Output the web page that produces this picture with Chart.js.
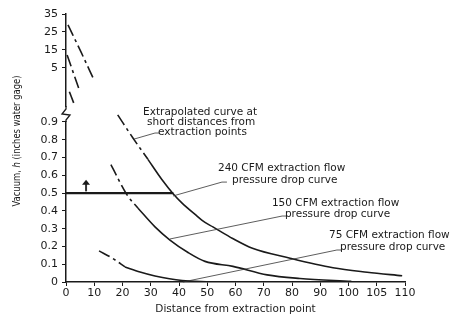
<!DOCTYPE html>
<html>
<head>
<meta charset="utf-8">
<script src="https://cdn.jsdelivr.net/npm/chart.js@4/dist/chart.umd.min.js"></script>
<style>
  html, body { margin: 0; padding: 0; background: #fff; }
  #chart { display: block; }
</style>
</head>
<body>
<canvas id="chart" width="469" height="320"></canvas>
<script>
// Graduations des axes (l'axe des distances n'est pas régulier : 100, 105, 110)
const xTickValues = [0, 10, 20, 30, 40, 50, 60, 70, 80, 90, 100, 105, 110];
const lowerTicks = [0, 0.1, 0.2, 0.3, 0.4, 0.5, 0.6, 0.7, 0.8, 0.9];
const upperTicks = [5, 15, 25, 35];

// Courbes [distance, dépression] lues sur la figure
// partie haute (échelle 5-35)
const flow240Upper = [[0.7, 28.9], [5.3, 13.9], [9.6, -0.6]];
const flow150Upper = [[0.4, 12.2], [4.7, -7.2]];
const flow75Upper = [[1.2, -8.2], [3.0, -15.6]];

// partie basse (échelle 0-0.9) : extrapolée puis mesurée
const flow240Extrap = [[18.3, 0.94], [23.7, 0.81], [29, 0.69]];
const flow240 = [[29, 0.69], [34, 0.575], [38, 0.495], [41, 0.445], [45.7, 0.38], [49.2, 0.335],
                 [52, 0.31], [59, 0.245], [66, 0.19], [79, 0.135], [94.5, 0.08], [103.3, 0.055], [109.5, 0.035]];
const flow150Extrap = [[15.9, 0.66], [21.6, 0.49], [25.5, 0.415]];
const flow150 = [[25.5, 0.415], [31.5, 0.31], [36.8, 0.236], [43.2, 0.166], [49.2, 0.116],
                 [59.1, 0.088], [71.2, 0.04], [82.8, 0.02], [100.5, 0.004]];
const flow75Extrap = [[11.7, 0.175], [16.3, 0.135], [20.9, 0.085]];
const flow75 = [[20.9, 0.085], [26.2, 0.056], [31.5, 0.034], [41.1, 0.008], [51, 0]];

// Seuil de 0.5 po d'eau
const thresholdLine = [[0, 0.5], [38, 0.5]];

// Annotations (texte + trait de rappel), en coordonnées de données
const notes = [
    { text: 'Extrapolated curve at', at: [27.3, 0.956] },
    { text: 'short distances from', at: [28.7, 0.9] },
    { text: 'extraction points', at: [32.6, 0.844] },
    { text: '240 CFM extraction flow', at: [53.8, 0.641] },
    { text: 'pressure drop curve', at: [58.8, 0.574] },
    { text: '150 CFM extraction flow', at: [72.9, 0.444] },
    { text: 'pressure drop curve', at: [77.5, 0.382] },
    { text: '75 CFM extraction flow', at: [93.1, 0.264] },
    { text: 'pressure drop curve', at: [97.0, 0.197] }
];
const leaders = [
    [[24.1, 0.804], [31.5, 0.838]],
    [[37.9, 0.484], [55.2, 0.562]],
    [[36.8, 0.242], [76.5, 0.371]],
    [[41.4, 0.0], [95.9, 0.18]]
];

const INK = '#1a1a1a';
const FONT = '"DejaVu Sans", sans-serif';

/**
 * Convertit une distance en position sur l'axe (graduations équidistantes)
 */
function xPos(d) {
    for (let i = 1; i < xTickValues.length; i++) {
        if (d <= xTickValues[i]) {
            const a = xTickValues[i - 1], b = xTickValues[i];
            return i - 1 + (d - a) / (b - a);
        }
    }
    return xTickValues.length - 1;
}

function toPoints(curve) {
    return curve.map(p => ({ x: xPos(p[0]), y: p[1] }));
}

function curve(data, axis, dashed, width) {
    return {
        data: toPoints(data),
        yAxisID: axis,
        borderColor: INK,
        borderWidth: width || 1.6,
        borderDash: dashed ? [12, 4, 3, 4] : [],
        pointRadius: 0,
        cubicInterpolationMode: 'monotone',
        fill: false
    };
}

// Dessin du texte, des traits de rappel, de la flèche et de la coupure d'axe
const decorPlugin = {
    id: 'decor',
    afterDraw(chart) {
        const ctx = chart.ctx;
        const x = chart.scales.x, yLow = chart.scales.yLow, yTop = chart.scales.yTop;
        const px = d => x.getPixelForValue(xPos(d));
        const py = v => yLow.getPixelForValue(v);
        ctx.save();

        // traits de rappel
        ctx.strokeStyle = '#333';
        ctx.lineWidth = 0.8;
        leaders.forEach(([a, b]) => {
            ctx.beginPath();
            ctx.moveTo(px(a[0]), py(a[1]));
            ctx.lineTo(px(b[0]), py(b[1]));
            ctx.lineTo(px(b[0]) + 5, py(b[1]));
            ctx.stroke();
        });

        // textes
        ctx.fillStyle = INK;
        ctx.font = '10.5px ' + FONT;
        ctx.textAlign = 'left';
        ctx.textBaseline = 'middle';
        notes.forEach(n => ctx.fillText(n.text, px(n.at[0]), py(n.at[1])));

        // flèche au-dessus du seuil
        const ax = px(7.1), ay0 = py(0.51), ay1 = py(0.575);
        ctx.lineWidth = 2;
        ctx.beginPath();
        ctx.moveTo(ax, ay0);
        ctx.lineTo(ax, ay1 + 3);
        ctx.stroke();
        ctx.beginPath();
        ctx.moveTo(ax, ay1);
        ctx.lineTo(ax - 4, ay1 + 5);
        ctx.lineTo(ax + 4, ay1 + 5);
        ctx.closePath();
        ctx.fill();

        // coupure de l'axe vertical
        const left = chart.chartArea.left;
        const yb = yTop.bottom;
        ctx.fillStyle = '#fff';
        ctx.fillRect(left - 3, yb - 7, 6, 14);
        ctx.strokeStyle = INK;
        ctx.lineWidth = 1.3;
        ctx.beginPath();
        ctx.moveTo(left, yb - 8);
        ctx.lineTo(left, yb - 5);
        ctx.lineTo(left - 4, yb);
        ctx.lineTo(left + 4, yb + 1);
        ctx.lineTo(left, yb + 6);
        ctx.lineTo(left, yb + 8);
        ctx.stroke();

        // titre vertical (police étroite)
        ctx.fillStyle = INK;
        ctx.translate(17, 141);
        ctx.rotate(-Math.PI / 2);
        ctx.scale(0.8, 1);
        const parts = [
            ['Vacuum, ', '10.5px ' + FONT],
            ['h', 'italic 10.5px ' + FONT],
            [' (inches water gage)', '10.5px ' + FONT]
        ];
        let total = 0;
        parts.forEach(p => { ctx.font = p[1]; total += ctx.measureText(p[0]).width; });
        let cx = -total / 2;
        parts.forEach(p => {
            ctx.font = p[1];
            ctx.fillText(p[0], cx, 0);
            cx += ctx.measureText(p[0]).width;
        });
        ctx.restore();
    }
};

const axisCommon = {
    border: { display: true, color: INK, width: 1.5 },
    grid: { drawOnChartArea: false, drawTicks: true, tickLength: 4, color: INK, lineWidth: 1 },
    ticks: { color: INK, padding: 4, autoSkip: false, font: { family: FONT, size: 11 } }
};

new Chart(document.getElementById('chart').getContext('2d'), {
    type: 'line',
    data: {
        datasets: [
            curve(flow240Upper, 'yTop', true),
            curve(flow150Upper, 'yTop', true),
            curve(flow75Upper, 'yTop', true),
            curve(flow240Extrap, 'yLow', true),
            curve(flow240, 'yLow', false),
            curve(flow150Extrap, 'yLow', true),
            curve(flow150, 'yLow', false),
            curve(flow75Extrap, 'yLow', true),
            curve(flow75, 'yLow', false),
            Object.assign(curve(thresholdLine, 'yLow', false, 2.2), { cubicInterpolationMode: 'default', tension: 0 })
        ]
    },
    options: {
        responsive: false,
        animation: false,
        devicePixelRatio: 1,
        layout: { padding: { top: 14, right: 64, bottom: 0, left: 0 } },
        plugins: {
            legend: { display: false },
            tooltip: { enabled: false }
        },
        scales: {
            x: {
                ...axisCommon,
                type: 'linear',
                min: 0,
                max: xTickValues.length - 1,
                afterBuildTicks: s => { s.ticks = xTickValues.map((_, i) => ({ value: i })); },
                afterFit: s => { s.height = 38; },
                ticks: { ...axisCommon.ticks, padding: 1, maxRotation: 0, callback: v => xTickValues[v] },
                title: {
                    display: true,
                    text: 'Distance from extraction point',
                    color: INK,
                    font: { family: FONT, size: 10.5 },
                    padding: { top: 0, bottom: 4 }
                }
            },
            yLow: {
                ...axisCommon,
                type: 'linear',
                position: 'left',
                stack: 'vacuum',
                stackWeight: 1.68,
                min: 0,
                max: 0.945,
                afterBuildTicks: s => { s.ticks = lowerTicks.map(v => ({ value: v })); },
                afterFit: s => { s.width = 66; },
                ticks: { ...axisCommon.ticks, callback: v => (v === 0 ? '0' : v.toFixed(1)) }
            },
            yTop: {
                ...axisCommon,
                type: 'linear',
                position: 'left',
                stack: 'vacuum',
                stackWeight: 1,
                min: -20.6,
                max: 35,
                afterBuildTicks: s => { s.ticks = upperTicks.map(v => ({ value: v })); },
                afterFit: s => { s.width = 66; },
                ticks: { ...axisCommon.ticks, callback: v => String(v) }
            }
        }
    },
    plugins: [decorPlugin]
});
</script>
</body>
</html>
